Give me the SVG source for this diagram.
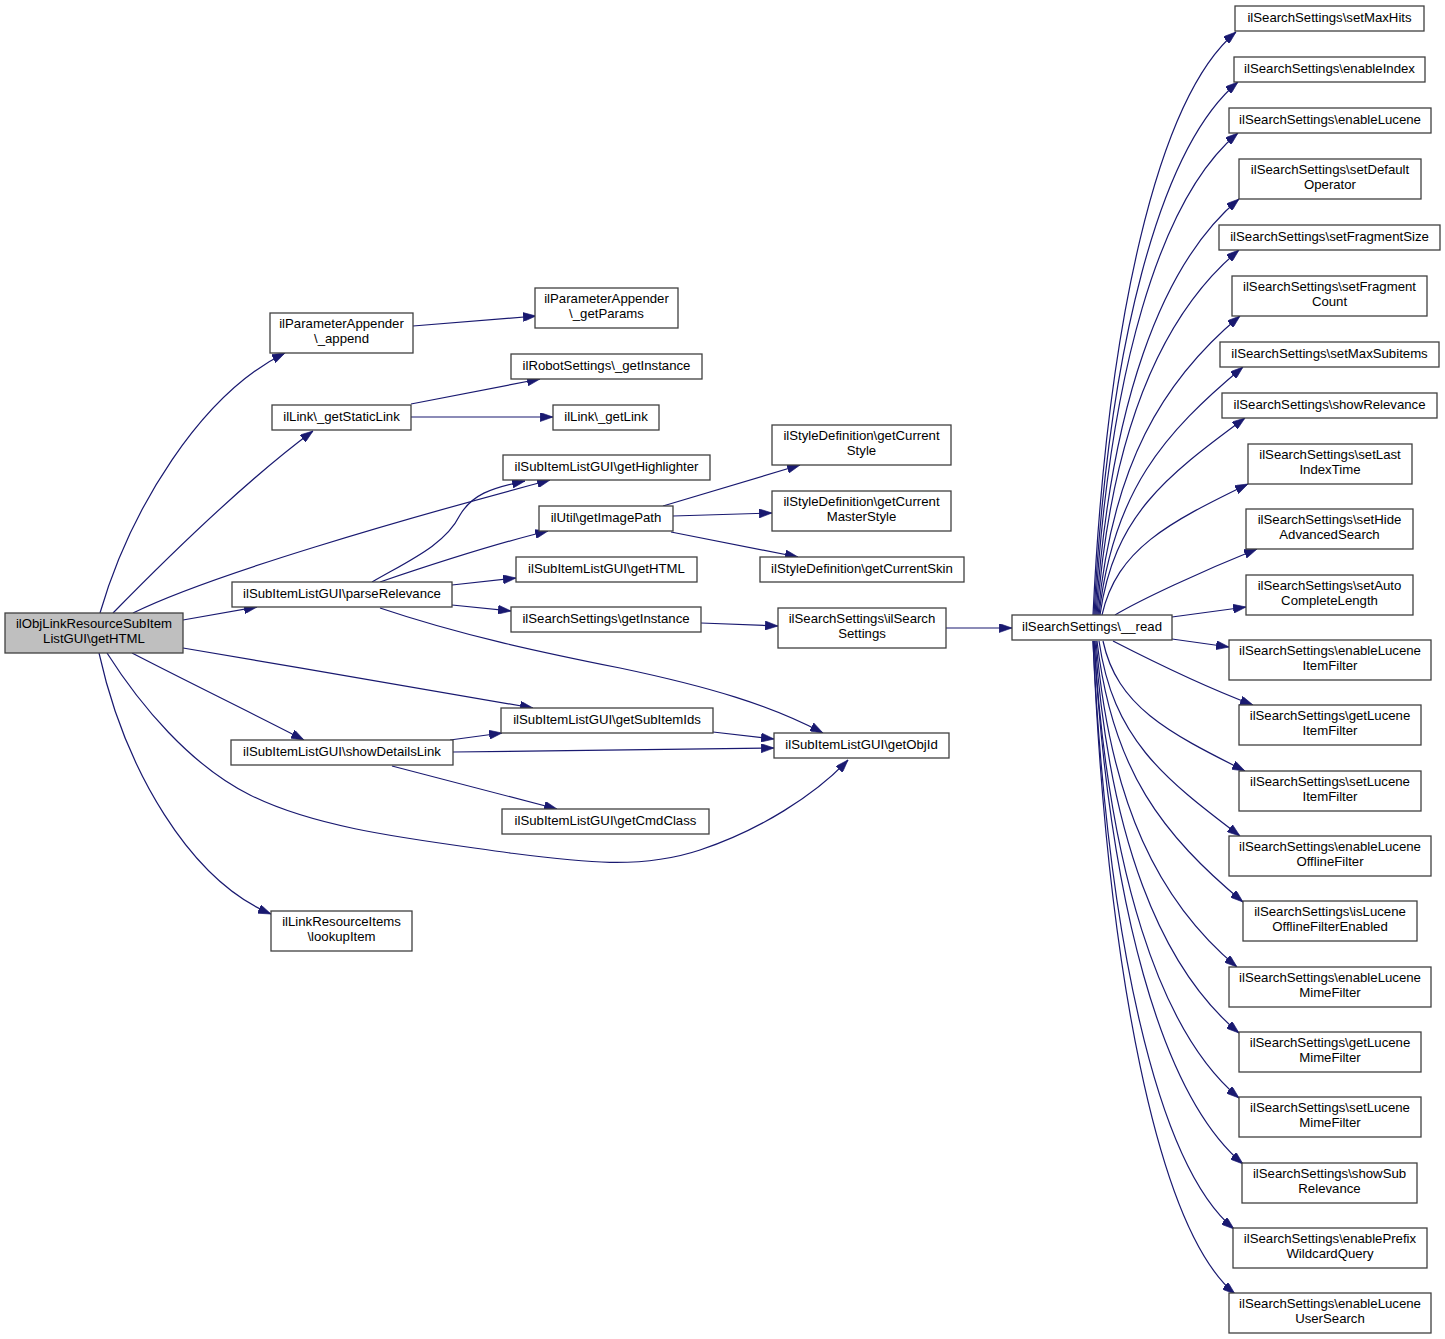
<svg xmlns="http://www.w3.org/2000/svg" width="1445" height="1339" viewBox="0 0 1445 1339">
<style>
.n rect{fill:#fff;stroke:#404040;stroke-width:1.3}
.n.root rect{fill:#bfbfbf}
text{font-family:"Liberation Sans",Arial,Helvetica,sans-serif;font-size:13.2px;text-anchor:middle;fill:#000}
.e path{fill:none;stroke:#191970;stroke-width:1.2;marker-end:url(#a)}
</style>
<defs>
<marker id="a" viewBox="0 0 10 7" refX="10" refY="3.5" markerWidth="13" markerHeight="9" markerUnits="userSpaceOnUse" orient="auto">
<path d="M0,0 L10,3.5 L0,7 z" fill="#191970" stroke="#191970" stroke-width="0.5"/>
</marker>
</defs>
<rect width="1445" height="1339" fill="#fff"/>
<g class="e" id="edges">
<path d="M100,613 C130,510 200,395 285,353"/>
<path d="M113,613 C160,565 240,485 313,431"/>
<path d="M133,613 C210,575 400,520 550,480"/>
<path d="M183,620 L257,607"/>
<path d="M183,648 C300,668 430,690 533,708"/>
<path d="M132,653 C190,683 250,712 304,740"/>
<path d="M107,653 C140,705 190,765 250,795 C320,830 420,840 510,853 C580,862 640,870 700,850 C760,830 815,795 848,760"/>
<path d="M99,653 C125,770 190,880 271,914"/>
<path d="M413,326 L536,316"/>
<path d="M411,404 L540,379"/>
<path d="M411,417 L553,417"/>
<path d="M372,582 C410,560 445,545 460,515 C472,495 490,488 525,481"/>
<path d="M380,582 C430,565 490,545 548,531"/>
<path d="M452,585 L516,578"/>
<path d="M452,605 L511,611"/>
<path d="M380,608 C460,635 540,652 620,668 C710,687 770,705 823,733"/>
<path d="M663,506 L800,465"/>
<path d="M673,516 L772,513"/>
<path d="M671,532 L798,557"/>
<path d="M701,623 L778,626"/>
<path d="M946,628 L1012,628"/>
<path d="M450,740 L502,733"/>
<path d="M453,752 L774,748"/>
<path d="M713,732 L774,739"/>
<path d="M392,766 L557,809"/>
<path d="M1093,615 C1107,324 1157,98 1236,32"/>
<path d="M1094,615 C1108,349 1159,148 1238,82"/>
<path d="M1095,615 C1109,374 1159,199 1238,133"/>
<path d="M1096,615 C1110,407 1160,265 1239,199"/>
<path d="M1097,615 C1111,433 1161,315 1239,250"/>
<path d="M1098,615 C1112,466 1162,381 1240,316"/>
<path d="M1099,615 C1113,491 1164,433 1243,367"/>
<path d="M1100,615 C1114,516 1165,477 1245,418"/>
<path d="M1102,615 C1117,549 1168,523 1248,484"/>
<path d="M1115,615 C1140,600 1200,572 1257,549"/>
<path d="M1172,617 L1246,607"/>
<path d="M1172,639 L1229,647"/>
<path d="M1113,641 C1150,660 1200,685 1253,705"/>
<path d="M1103,641 C1117,706 1167,732 1245,771"/>
<path d="M1099,641 C1113,738 1162,777 1240,836"/>
<path d="M1097,641 C1112,771 1163,835 1243,902"/>
<path d="M1096,641 C1110,804 1159,902 1237,967"/>
<path d="M1095,641 C1109,837 1160,967 1239,1033"/>
<path d="M1094,641 C1108,869 1159,1031 1239,1098"/>
<path d="M1094,641 C1109,902 1161,1095 1243,1164"/>
<path d="M1093,641 C1107,935 1156,1164 1234,1229"/>
<path d="M1093,641 C1107,967 1157,1229 1235,1294"/>
</g>
<g class="n root" id="n0"><rect x="5" y="613" width="178" height="40"/><text x="94" y="628">ilObjLinkResourceSubItem</text><text x="94" y="643">ListGUI\getHTML</text></g>
<g class="n" id="n1"><rect x="270" y="313" width="143" height="40"/><text x="341.5" y="328">ilParameterAppender</text><text x="341.5" y="343">\_append</text></g>
<g class="n" id="n2"><rect x="535" y="288" width="143" height="40"/><text x="606.5" y="303">ilParameterAppender</text><text x="606.5" y="318">\_getParams</text></g>
<g class="n" id="n3"><rect x="511" y="354" width="191" height="25"/><text x="606.5" y="370">ilRobotSettings\_getInstance</text></g>
<g class="n" id="n4"><rect x="272" y="405" width="139" height="25"/><text x="341.5" y="421">ilLink\_getStaticLink</text></g>
<g class="n" id="n5"><rect x="553" y="405" width="106" height="25"/><text x="606" y="421">ilLink\_getLink</text></g>
<g class="n" id="n6"><rect x="503" y="455" width="207" height="25"/><text x="606.5" y="471">ilSubItemListGUI\getHighlighter</text></g>
<g class="n" id="n7"><rect x="539" y="506" width="134" height="25"/><text x="606" y="522">ilUtil\getImagePath</text></g>
<g class="n" id="n8"><rect x="232" y="582" width="220" height="25"/><text x="342" y="598">ilSubItemListGUI\parseRelevance</text></g>
<g class="n" id="n9"><rect x="516" y="557" width="181" height="25"/><text x="606.5" y="573">ilSubItemListGUI\getHTML</text></g>
<g class="n" id="n10"><rect x="511" y="607" width="190" height="25"/><text x="606" y="623">ilSearchSettings\getInstance</text></g>
<g class="n" id="n11"><rect x="772" y="425" width="179" height="40"/><text x="861.5" y="440">ilStyleDefinition\getCurrent</text><text x="861.5" y="455">Style</text></g>
<g class="n" id="n12"><rect x="772" y="491" width="179" height="40"/><text x="861.5" y="506">ilStyleDefinition\getCurrent</text><text x="861.5" y="521">MasterStyle</text></g>
<g class="n" id="n13"><rect x="760" y="557" width="204" height="25"/><text x="862" y="573">ilStyleDefinition\getCurrentSkin</text></g>
<g class="n" id="n14"><rect x="778" y="608" width="168" height="40"/><text x="862" y="623">ilSearchSettings\ilSearch</text><text x="862" y="638">Settings</text></g>
<g class="n" id="n15"><rect x="501" y="708" width="212" height="25"/><text x="607" y="724">ilSubItemListGUI\getSubItemIds</text></g>
<g class="n" id="n16"><rect x="231" y="740" width="222" height="25"/><text x="342" y="756">ilSubItemListGUI\showDetailsLink</text></g>
<g class="n" id="n17"><rect x="774" y="733" width="175" height="25"/><text x="861.5" y="749">ilSubItemListGUI\getObjId</text></g>
<g class="n" id="n18"><rect x="502" y="809" width="207" height="25"/><text x="605.5" y="825">ilSubItemListGUI\getCmdClass</text></g>
<g class="n" id="n19"><rect x="271" y="911" width="141" height="40"/><text x="341.5" y="926">ilLinkResourceItems</text><text x="341.5" y="941">\lookupItem</text></g>
<g class="n" id="n20"><rect x="1012" y="615" width="160" height="25"/><text x="1092" y="631">ilSearchSettings\__read</text></g>
<g class="n" id="r1"><rect x="1235" y="6" width="189" height="25"/><text x="1329.5" y="22">ilSearchSettings\setMaxHits</text></g>
<g class="n" id="r2"><rect x="1234" y="57" width="191" height="25"/><text x="1329.5" y="73">ilSearchSettings\enableIndex</text></g>
<g class="n" id="r3"><rect x="1229" y="108" width="202" height="25"/><text x="1330" y="124">ilSearchSettings\enableLucene</text></g>
<g class="n" id="r4"><rect x="1239" y="159" width="182" height="40"/><text x="1330" y="174">ilSearchSettings\setDefault</text><text x="1330" y="189">Operator</text></g>
<g class="n" id="r5"><rect x="1219" y="225" width="221" height="25"/><text x="1329.5" y="241">ilSearchSettings\setFragmentSize</text></g>
<g class="n" id="r6"><rect x="1232" y="276" width="195" height="40"/><text x="1329.5" y="291">ilSearchSettings\setFragment</text><text x="1329.5" y="306">Count</text></g>
<g class="n" id="r7"><rect x="1220" y="342" width="219" height="25"/><text x="1329.5" y="358">ilSearchSettings\setMaxSubitems</text></g>
<g class="n" id="r8"><rect x="1222" y="393" width="215" height="25"/><text x="1329.5" y="409">ilSearchSettings\showRelevance</text></g>
<g class="n" id="r9"><rect x="1248" y="444" width="164" height="40"/><text x="1330" y="459">ilSearchSettings\setLast</text><text x="1330" y="474">IndexTime</text></g>
<g class="n" id="r10"><rect x="1246" y="509" width="167" height="40"/><text x="1329.5" y="524">ilSearchSettings\setHide</text><text x="1329.5" y="539">AdvancedSearch</text></g>
<g class="n" id="r11"><rect x="1246" y="575" width="167" height="40"/><text x="1329.5" y="590">ilSearchSettings\setAuto</text><text x="1329.5" y="605">CompleteLength</text></g>
<g class="n" id="r12"><rect x="1229" y="640" width="202" height="40"/><text x="1330" y="655">ilSearchSettings\enableLucene</text><text x="1330" y="670">ItemFilter</text></g>
<g class="n" id="r13"><rect x="1239" y="705" width="182" height="40"/><text x="1330" y="720">ilSearchSettings\getLucene</text><text x="1330" y="735">ItemFilter</text></g>
<g class="n" id="r14"><rect x="1239" y="771" width="182" height="40"/><text x="1330" y="786">ilSearchSettings\setLucene</text><text x="1330" y="801">ItemFilter</text></g>
<g class="n" id="r15"><rect x="1229" y="836" width="202" height="40"/><text x="1330" y="851">ilSearchSettings\enableLucene</text><text x="1330" y="866">OfflineFilter</text></g>
<g class="n" id="r16"><rect x="1243" y="901" width="174" height="40"/><text x="1330" y="916">ilSearchSettings\isLucene</text><text x="1330" y="931">OfflineFilterEnabled</text></g>
<g class="n" id="r17"><rect x="1229" y="967" width="202" height="40"/><text x="1330" y="982">ilSearchSettings\enableLucene</text><text x="1330" y="997">MimeFilter</text></g>
<g class="n" id="r18"><rect x="1239" y="1032" width="182" height="40"/><text x="1330" y="1047">ilSearchSettings\getLucene</text><text x="1330" y="1062">MimeFilter</text></g>
<g class="n" id="r19"><rect x="1239" y="1097" width="182" height="40"/><text x="1330" y="1112">ilSearchSettings\setLucene</text><text x="1330" y="1127">MimeFilter</text></g>
<g class="n" id="r20"><rect x="1242" y="1163" width="175" height="40"/><text x="1329.5" y="1178">ilSearchSettings\showSub</text><text x="1329.5" y="1193">Relevance</text></g>
<g class="n" id="r21"><rect x="1233" y="1228" width="194" height="40"/><text x="1330" y="1243">ilSearchSettings\enablePrefix</text><text x="1330" y="1258">WildcardQuery</text></g>
<g class="n" id="r22"><rect x="1229" y="1293" width="202" height="40"/><text x="1330" y="1308">ilSearchSettings\enableLucene</text><text x="1330" y="1323">UserSearch</text></g>
</svg>
